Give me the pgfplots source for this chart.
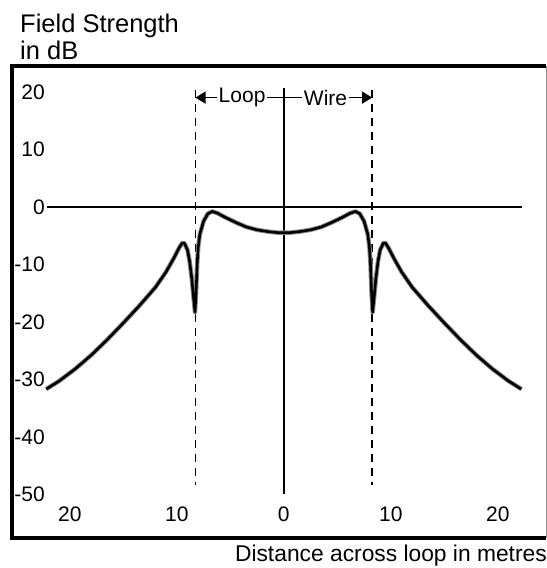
\documentclass[border=0pt]{standalone}
\usepackage{fontspec}
\setmainfont{Liberation Sans}
\usepackage{pgfplots}
\pgfplotsset{compat=1.18}
\usetikzlibrary{arrows.meta}
\pgfplotstableread{
x y
-22.2 -31.7
-21.0 -30.3
-19.5 -28.2
-18.0 -25.8
-16.5 -23.1
-15.0 -20.2
-13.5 -17.2
-12.0 -14.0
-11.0 -11.3
-10.3 -9.0
-9.8 -7.2
-9.5 -6.3
-9.3 -6.3
-9.0 -7.5
-8.8 -9.5
-8.6 -12.5
-8.45 -15.5
-8.3 -18.3
-8.2 -15.0
-8.1 -10.0
-8.0 -7.0
-7.85 -4.8
-7.5 -2.5
-7.1 -1.2
-6.7 -0.8
-6.2 -1.1
-5.5 -1.8
-4.5 -2.7
-3.5 -3.5
-2.5 -4.0
-1.5 -4.3
-0.5 -4.5
0 -4.5
0.5 -4.5
1.5 -4.3
2.5 -4.0
3.5 -3.5
4.5 -2.7
5.5 -1.8
6.2 -1.1
6.7 -0.8
7.1 -1.2
7.5 -2.5
7.85 -4.8
8.0 -7.0
8.1 -10.0
8.2 -15.0
8.3 -18.3
8.45 -15.5
8.6 -12.5
8.8 -9.5
9.0 -7.5
9.3 -6.3
9.5 -6.3
9.8 -7.2
10.3 -9.0
11.0 -11.3
12.0 -14.0
13.5 -17.2
15.0 -20.2
16.5 -23.1
18.0 -25.8
19.5 -28.2
21.0 -30.3
22.2 -31.7
}\fieldtable
\begin{document}
\begin{tikzpicture}
\useasboundingbox (0,0) rectangle (547bp,568bp);
\node[anchor=base west, font=\fontsize{25.5bp}{30bp}\selectfont, inner sep=0pt] at (20bp,535bp) {Field Strength};
\node[anchor=base west, font=\fontsize{25.5bp}{30bp}\selectfont, inner sep=0pt] at (20bp,508bp) {in dB};
\node[anchor=base east, font=\fontsize{22.8bp}{27bp}\selectfont, inner sep=0pt] at (547bp,7bp) {Distance across loop in metres};
\begin{axis}[
  at={(12bp,30bp)}, anchor=south west,
  scale only axis, width=534bp, height=472bp,
  xmin=-25.4, xmax=24.5, ymin=-57.6, ymax=24.5,
  axis line style={draw=none},
  tick style={draw=none},
  xtick={-20,-10,0,10,20},
  xticklabels={20,10,0,10,20},
  ytick={-50,-40,-30,-20,-10,0,10,20},
  yticklabels={-50,-40,-30,-20,-10,0,10,20},
  ticklabel style={font=\fontsize{21bp}{25bp}\selectfont, inner sep=0pt},
  yticklabel style={anchor=east, xshift=33bp},
  xticklabel style={anchor=base, yshift=17bp},
  clip=false,
]
\draw[line width=4bp] (rel axis cs:1,1) -- (rel axis cs:0,1) -- (rel axis cs:0,0) -- (rel axis cs:1,0);
\draw[black!45, line width=1bp] (rel axis cs:1,0) -- (rel axis cs:1,1);
\draw[line width=1.5bp] (axis cs:-22.1,0) -- (axis cs:22.3,0);
\draw[line width=1.5bp] (axis cs:0,20.6) -- (axis cs:0,-50);
\draw[line width=1.5bp, dash pattern=on 8bp off 6bp] (axis cs:-8.25,20.4) -- (axis cs:-8.25,-48.3);
\draw[line width=1.5bp, dash pattern=on 8bp off 6bp] (axis cs:8.25,20.4) -- (axis cs:8.25,-48.3);
\draw[line width=1.4bp, {Triangle[length=10bp,width=12bp]}-{Triangle[length=10bp,width=12bp]}] (axis cs:-8.25,19) -- (axis cs:8.25,19);
\node[fill=white, inner sep=2bp, font=\fontsize{21bp}{25bp}\selectfont] at (axis cs:-3.9,19) {Loop};
\node[fill=white, inner sep=2bp, font=\fontsize{21bp}{25bp}\selectfont] at (axis cs:3.9,19) {Wire};
\addplot[black!45, line width=4.5bp, line join=round] table[x=x, y=y] {\fieldtable};
\addplot[black, line width=2.6bp, line join=round] table[x=x, y=y] {\fieldtable};
\end{axis}
\end{tikzpicture}
\end{document}
